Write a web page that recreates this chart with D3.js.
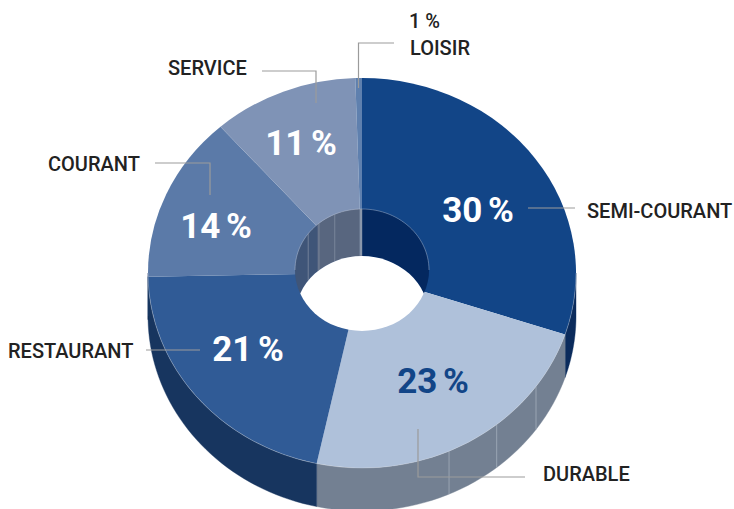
<!DOCTYPE html>
<html>
<head>
<meta charset="utf-8">
<script src="https://cdnjs.cloudflare.com/ajax/libs/d3/7.8.5/d3.min.js"></script>
<style>
  html, body { margin: 0; background: #fff; }
  text { font-family: Roboto, sans-serif; }
</style>
</head>
<body>
<svg id="chart" width="734" height="509"></svg>
<script>
const categories = ["SEMI-COURANT", "DURABLE", "RESTAURANT", "COURANT", "SERVICE", "LOISIR"];
// slice sizes as drawn in the picture, the labels below are the rounded ones
const values = [30.1, 23.3, 21.3, 13.8, 11, 0.5];
const valueLabels = ["30 %", "23 %", "21 %", "14 %", "11 %", "1 %"];
const topColors = ["#124587", "#afc1da", "#305b96", "#5b7aa8", "#7f93b6", "#5f80ae"];
const outerWallColors = ["#0b2b5c", "#738092", "#17355f", "#17355f", "#17355f", "#17355f"];
const innerWallColors = ["#04285f", "#04285f", "#3f5578", "#3f5578", "#58667f", "#8a97ab"];
const valueColors = ["#fff", "#124587", "#fff", "#fff", "#fff", "#222"];

// where the seams show on the side walls, in degrees round the pie
const outerSeams = [125.6, 141, 156];
const innerSeams = [306.6, 320, 336];

const width = 734, height = 509;
const cx = 362, cy = 273, rx = 214, ry = 195;
const holeCy = 270, holeRx = 67, holeRy = 61;
const depth = 43, holeDepth = 47;

const valuePos = [[478, 222], [433, 393], [248, 361], [216, 238], [301, 155]];
const namePos = [
  { x: 587, y: 218 }, { x: 543, y: 481 }, { x: 8, y: 358 },
  { x: 48, y: 171 }, { x: 168, y: 75 }, { x: 410, y: 55 }
];
const leaders = [
  [[528, 208], [575, 208]],
  [[418, 429], [418, 477], [525, 477]],
  [[146, 350], [200, 350]],
  [[155, 163], [210, 163], [210, 195]],
  [[262, 71], [316, 71], [316, 103]],
  [[394, 43], [358.5, 43], [358.5, 88]]
];

const svg = d3.select("#chart");
const pie = d3.pie().sort(null);
const slices = pie(values);

// wall between two angles: the rim on top and the same rim moved down
function wallPath(a0, a1, wallRx, wallRy, wallCy, drop) {
  const angles = d3.range(0, 41).map(i => a0 + (a1 - a0) * i / 40);
  const rim = angles.map(a => [cx + wallRx * Math.sin(a), wallCy - wallRy * Math.cos(a)]);
  const low = rim.map(p => [p[0], p[1] + drop]).reverse();
  return d3.line()(rim.concat(low)) + "Z";
}

const rad = d => d * Math.PI / 180;

// outer wall, only the front half shows
const front = svg.append("g");
slices.forEach((s, i) => {
  const a0 = Math.max(s.startAngle, Math.PI / 2);
  const a1 = Math.min(s.endAngle, Math.PI * 1.5);
  if (a1 <= a0) return;
  front.append("path")
    .attr("d", wallPath(a0, a1, rx, ry, cy, depth))
    .attr("fill", outerWallColors[i])
    .attr("stroke", outerWallColors[i])
    .attr("stroke-width", 0.4);
});
front.selectAll("line.seam")
  .data(outerSeams)
  .join("line")
  .attr("class", "seam")
  .attr("x1", d => cx + rx * Math.sin(rad(d)))
  .attr("x2", d => cx + rx * Math.sin(rad(d)))
  .attr("y1", d => cy - ry * Math.cos(rad(d)))
  .attr("y2", d => cy - ry * Math.cos(rad(d)) + depth)
  .attr("stroke", "#a3adbb")
  .attr("stroke-width", 0.8);

// top face, a circle squashed into an ellipse
const arc = d3.arc().innerRadius(0).outerRadius(rx);
svg.append("g")
  .attr("transform", `translate(${cx},${cy}) scale(1,${ry / rx})`)
  .selectAll("path")
  .data(slices)
  .join("path")
  .attr("d", arc)
  .attr("fill", (d, i) => topColors[i]);

// light rim along the front edge
svg.append("path")
  .attr("d", d3.line()(d3.range(0, 61).map(i => {
    const a = Math.PI / 2 + Math.PI * i / 60;
    return [cx + rx * Math.sin(a), cy - ry * Math.cos(a)];
  })))
  .attr("fill", "none")
  .attr("stroke", "#d5dce6")
  .attr("stroke-opacity", 0.45)
  .attr("stroke-width", 0.7);

// hole: inner wall at the back, white seen through
svg.append("clipPath").attr("id", "hole")
  .append("ellipse")
  .attr("cx", cx).attr("cy", holeCy).attr("rx", holeRx).attr("ry", holeRy);

const hole = svg.append("g").attr("clip-path", "url(#hole)");
slices.forEach((s, i) => {
  // use the -90..90 back half of the pie
  const ranges = [[s.startAngle, s.endAngle], [s.startAngle - 2 * Math.PI, s.endAngle - 2 * Math.PI]];
  ranges.forEach(r => {
    const a0 = Math.max(r[0], -Math.PI / 2);
    const a1 = Math.min(r[1], Math.PI / 2);
    if (a1 <= a0) return;
    hole.append("path")
      .attr("d", wallPath(a0, a1, holeRx, holeRy, holeCy, holeDepth))
      .attr("fill", innerWallColors[i])
      .attr("stroke", innerWallColors[i])
      .attr("stroke-width", 0.4);
  });
});
hole.selectAll("line.seam")
  .data(innerSeams)
  .join("line")
  .attr("class", "seam")
  .attr("x1", d => cx + holeRx * Math.sin(rad(d)))
  .attr("x2", d => cx + holeRx * Math.sin(rad(d)))
  .attr("y1", d => holeCy - holeRy * Math.cos(rad(d)))
  .attr("y2", d => holeCy - holeRy * Math.cos(rad(d)) + holeDepth)
  .attr("stroke", "#8793a6")
  .attr("stroke-width", 0.7);
hole.append("ellipse")
  .attr("cx", cx).attr("cy", holeCy + holeDepth).attr("rx", holeRx).attr("ry", holeRy)
  .attr("fill", "#fff");

svg.append("path")
  .attr("d", d3.line()(d3.range(0, 61).map(i => {
    const a = -Math.PI / 2 + Math.PI * i / 60;
    return [cx + holeRx * Math.sin(a), holeCy - holeRy * Math.cos(a)];
  })))
  .attr("fill", "none")
  .attr("stroke", "#c3cbd8")
  .attr("stroke-opacity", 0.6)
  .attr("stroke-width", 0.7);

// leader lines
svg.append("g")
  .selectAll("path")
  .data(leaders)
  .join("path")
  .attr("d", d3.line())
  .attr("fill", "none")
  .attr("stroke", "#9b9b9b")
  .attr("stroke-width", 1.2);

// big percentages on the slices
svg.append("g")
  .selectAll("text")
  .data(valuePos)
  .join("text")
  .attr("x", d => d[0])
  .attr("y", d => d[1])
  .attr("text-anchor", "middle")
  .attr("font-size", 35)
  .attr("font-weight", 700)
  .attr("word-spacing", -3)
  .attr("fill", (d, i) => valueColors[i])
  .text((d, i) => valueLabels[i]);

// category names
svg.append("g")
  .selectAll("text")
  .data(namePos)
  .join("text")
  .attr("x", d => d.x)
  .attr("y", d => d.y)
  .attr("font-size", 20)
  .attr("font-weight", 500)
  .attr("fill", "#222")
  .text((d, i) => categories[i]);

// LOISIR is too thin for a label inside, its value sits over the name
svg.append("text")
  .attr("x", 409).attr("y", 28)
  .attr("font-size", 20).attr("font-weight", 500).attr("fill", "#222")
  .text(valueLabels[5]);
</script>
</body>
</html>
